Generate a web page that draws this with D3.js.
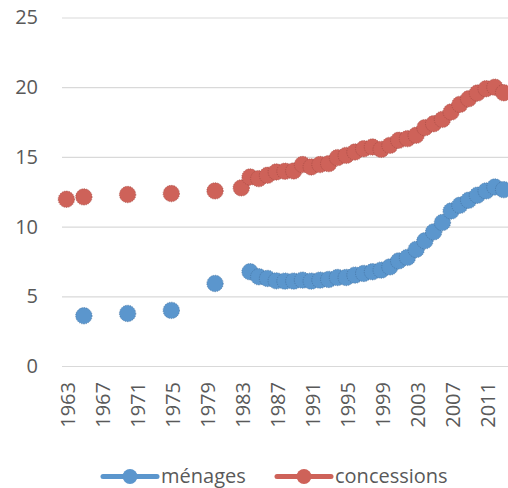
<!DOCTYPE html>
<html>
<head>
<meta charset="utf-8">
<script src="https://cdn.jsdelivr.net/npm/d3@7"></script>
<style>
  body { margin: 0; background: #fff; }
  svg { display: block; font-family: "Open Sans", sans-serif; }
</style>
</head>
<body>
<div id="chart"></div>
<script>
// Category axis: one slot per year
const categories = [1963,1964,1965,1966,1967,1968,1969,1970,1971,1972,1973,1974,1975,1976,1977,1978,1979,
    1980,1981,1982,1983,1984,1985,1986,1987,1988,1989,1990,1991,1992,1993,1994,1995,1996,1997,1998,1999,
    2000,2001,2002,2003,2004,2005,2006,2007,2008,2009,2010,2011,2012,2013];
const tickLabels = ["1963","1967","1971","1975","1979","1983","1987","1991","1995","1999","2003","2007","2011"];
const yTicks = [0, 5, 10, 15, 20, 25];

// Years that carry observations
const dataYears = [1963,1965,1970,1975,1980,1983,1984,1985,1986,1987,1988,1989,1990,1991,1992,1993,1994,
    1995,1996,1997,1998,1999,2000,2001,2002,2003,2004,2005,2006,2007,2008,2009,2010,2011,2012,2013];
const menages = [null,3.6,3.77,3.99,5.92,null,6.76,6.4,6.28,6.11,6.09,6.09,6.16,6.09,6.16,6.21,6.35,
    6.35,6.52,6.64,6.76,6.88,7.11,7.54,7.79,8.36,8.98,9.62,10.29,11.12,11.53,11.89,12.25,12.56,12.84,12.65];
const concessions = [11.96,12.13,12.3,12.37,12.56,12.78,13.56,13.44,13.68,13.92,13.97,13.99,14.45,14.28,14.45,14.52,14.95,
    15.11,15.35,15.59,15.71,15.54,15.83,16.19,16.31,16.55,17.1,17.38,17.69,18.22,18.77,19.17,19.58,19.89,20.0,19.6];

const W = 508, H = 488;
const plot = {left: 62, right: 508, top: 17.5, bottom: 366};
const textColor = "#595959";

const svg = d3.select("#chart").append("svg")
    .attr("width", W)
    .attr("height", H);

const x = d3.scaleBand()
    .domain(categories)
    .range([plot.left, plot.right])
    .padding(0);

const y = d3.scaleLinear()
    .domain([0, 25])
    .range([plot.bottom, plot.top]);

// y axis + gridlines
const yAxis = svg.append("g")
    .attr("transform", `translate(${plot.left},0)`)
    .call(d3.axisLeft(y).tickValues(yTicks).tickSize(-(plot.right - plot.left)).tickPadding(24));
yAxis.select(".domain").remove();
yAxis.selectAll(".tick line").attr("stroke", "#d9d9d9").attr("stroke-width", 1.2);
yAxis.selectAll(".tick text")
    .attr("fill", textColor)
    .style("font-size", "20px")
    .style("font-family", "Open Sans");

// x axis, rotated labels
const xAxis = svg.append("g")
    .attr("transform", `translate(0,${plot.bottom})`)
    .call(d3.axisBottom(x).tickValues(tickLabels.map(Number)).tickSize(0));
xAxis.select(".domain").remove();
xAxis.selectAll(".tick text")
    .attr("fill", textColor)
    .style("font-size", "20px")
    .style("font-family", "Open Sans")
    .attr("text-anchor", "end")
    .attr("transform", "translate(2,16) rotate(-90)")
    .attr("x", 0)
    .attr("y", 0)
    .attr("dy", "0.35em");

const series = [
    {name: "ménages", values: menages, fill: "#5b96cd", stroke: "#44719f"},
    {name: "concessions", values: concessions, fill: "#ce6259", stroke: "#a34a43"}
];

const cx = yr => x(yr) + x.bandwidth() / 2;

series.forEach(s => {
    const pts = dataYears.map((yr, i) => ({year: yr, value: s.values[i]}))
        .filter(d => d.value != null);
    svg.append("g").selectAll("circle")
        .data(pts)
        .enter()
        .append("circle")
        .attr("cx", d => cx(d.year))
        .attr("cy", d => y(d.value))
        .attr("r", 8.2)
        .attr("fill", s.fill)
        .attr("stroke", s.stroke)
        .attr("stroke-width", 0.7)
        .attr("stroke-dasharray", "1.2,1.2");
});

// legend
const legendY = 476.5;
const legendItems = [
    {x0: 103, x1: 157, label: "ménages", s: series[0]},
    {x0: 277, x1: 331, label: "concessions", s: series[1]}
];
legendItems.forEach(item => {
    const g = svg.append("g");
    g.append("line")
        .attr("x1", item.x0).attr("x2", item.x1)
        .attr("y1", legendY).attr("y2", legendY)
        .attr("stroke", item.s.fill)
        .attr("stroke-width", 5)
        .attr("stroke-linecap", "round");
    g.append("circle")
        .attr("cx", (item.x0 + item.x1) / 2)
        .attr("cy", legendY)
        .attr("r", 7.5)
        .attr("fill", item.s.fill);
    g.append("text")
        .attr("x", item.x1 + 4)
        .attr("y", legendY)
        .attr("dy", "0.3em")
        .attr("fill", textColor)
        .style("font-size", "20px")
        .text(item.label);
});
</script>
</body>
</html>
